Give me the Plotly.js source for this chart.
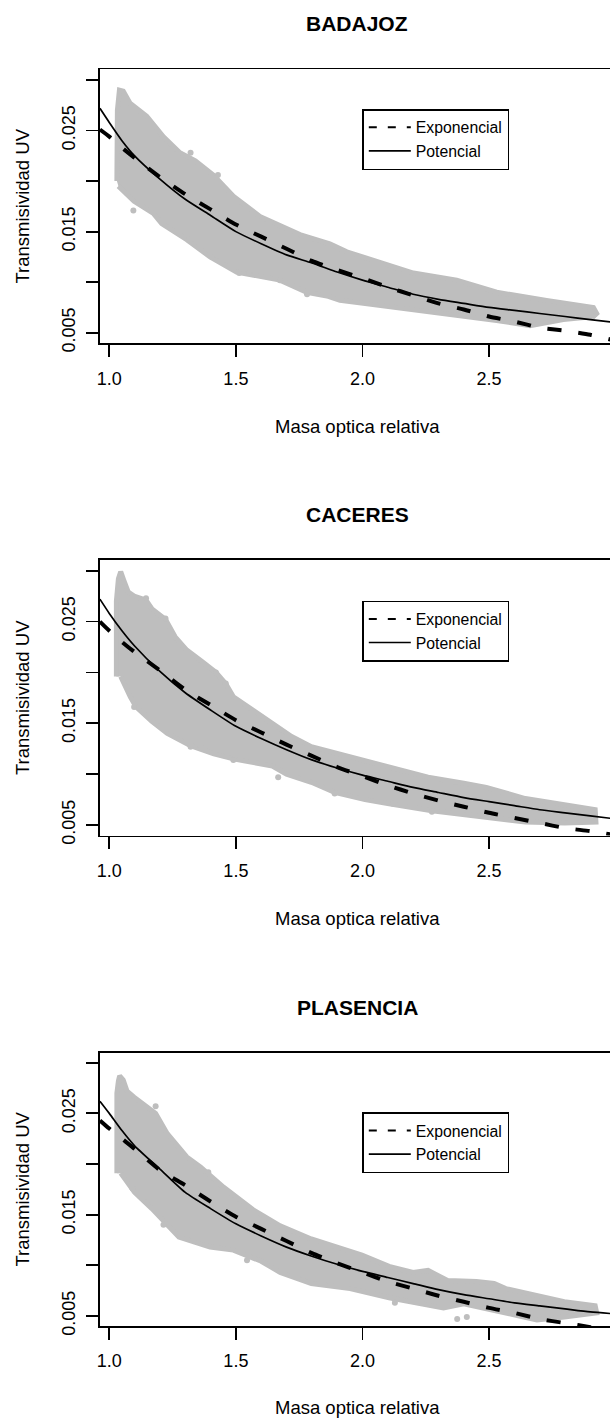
<!DOCTYPE html>
<html>
<head>
<meta charset="utf-8">
<script src="https://cdn.plot.ly/plotly-3.0.1.min.js"></script>
<style>
html,body{margin:0;padding:0;overflow:hidden;background:#ffffff;}
#chart{width:620px;height:1418px;}
</style>
</head>
<body>
<div id="chart"></div>
<script>
// ---------------- data ----------------
const stations = ["BADAJOZ", "CACERES", "PLASENCIA"];
const xTitle = "Masa optica relativa";
const yTitle = "Transmisividad UV";
const legendNames = ["Exponencial", "Potencial"];

const xTickVals = [1.0, 1.5, 2.0, 2.5];
const xTickText = ["1.0", "1.5", "2.0", "2.5"];
const yTickVals = [0.005, 0.010, 0.015, 0.020, 0.025, 0.030];
const yTickText = ["0.005", "", "0.015", "", "0.025", ""];

// x positions at which the fitted curves were read
const curveX = [0.963, 1.0, 1.05, 1.1, 1.2, 1.3, 1.4, 1.5, 1.6, 1.7, 1.8, 1.9, 2.0,
                2.1, 2.2, 2.3, 2.4, 2.5, 2.6, 2.7, 2.8, 2.9, 3.0];

const expBadajoz   = [0.0251, 0.0244, 0.0233, 0.0223, 0.0204, 0.0187, 0.0172, 0.0157, 0.0145, 0.0133, 0.0121, 0.0112, 0.0104,
                      0.0095, 0.0087, 0.0079, 0.0073, 0.0066, 0.0061, 0.0055, 0.0052, 0.0048, 0.0042];
const potBadajoz   = [0.0272, 0.0258, 0.0240, 0.0225, 0.0202, 0.0182, 0.0166, 0.0150, 0.0138, 0.0127, 0.0119, 0.0110, 0.0102,
                      0.0095, 0.0088, 0.0083, 0.0079, 0.0075, 0.0072, 0.0069, 0.0066, 0.0063, 0.0060];

const expCaceres   = [0.0250, 0.0241, 0.0230, 0.0220, 0.0202, 0.0183, 0.0168, 0.0153, 0.0141, 0.0129, 0.0118, 0.0107, 0.0098,
                      0.0089, 0.0081, 0.0074, 0.0068, 0.0062, 0.0057, 0.0052, 0.0047, 0.0044, 0.0040];
const potCaceres   = [0.0272, 0.0258, 0.0241, 0.0226, 0.0201, 0.0180, 0.0163, 0.0147, 0.0135, 0.0124, 0.0114, 0.0106, 0.0099,
                      0.0093, 0.0087, 0.0082, 0.0077, 0.0073, 0.0069, 0.0065, 0.0062, 0.0059, 0.0056];

const expPlasencia = [0.0243, 0.0235, 0.0225, 0.0215, 0.0194, 0.0179, 0.0163, 0.0148, 0.0136, 0.0124, 0.0112, 0.0102, 0.0093,
                      0.0084, 0.0077, 0.0070, 0.0064, 0.0058, 0.0053, 0.0047, 0.0043, 0.0039, 0.0035];
const potPlasencia = [0.0262, 0.0250, 0.0233, 0.0218, 0.0195, 0.0172, 0.0156, 0.0141, 0.0129, 0.0118, 0.0109, 0.0101, 0.0094,
                      0.0088, 0.0082, 0.0076, 0.0071, 0.0067, 0.0063, 0.0060, 0.0057, 0.0054, 0.0052];

// outline of the cloud of measured points (upper edge left->right, then lower edge right->left)
const cloudBadajozX = [1.030, 1.032, 1.040, 1.055, 1.082, 1.148, 1.213, 1.279, 1.340, 1.411, 1.490, 1.595, 1.753, 1.871,
                       1.938, 2.069, 2.201, 2.372, 2.530, 2.727, 2.912, 2.925,
                       2.912, 2.793, 2.662, 2.530, 2.398, 2.267, 2.135, 2.003, 1.911, 1.865, 1.780, 1.674, 1.503,
                       1.398, 1.306, 1.207, 1.174, 1.098, 1.036];
const cloudBadajozY = [0.0200, 0.0270, 0.0290, 0.0289, 0.0277, 0.0264, 0.0244, 0.0228, 0.0220, 0.0206, 0.0185, 0.0165, 0.0147, 0.0138,
                       0.0130, 0.0119, 0.0109, 0.0102, 0.0090, 0.0082, 0.0075, 0.0069,
                       0.0066, 0.0063, 0.0057, 0.0062, 0.0066, 0.0071, 0.0075, 0.0079, 0.0082, 0.0086, 0.0090, 0.0102, 0.0110,
                       0.0125, 0.0142, 0.0158, 0.0168, 0.0180, 0.0195];
const dotsBadajozX = [1.095, 1.321, 1.429, 1.314, 1.406, 1.513, 1.552, 1.674, 1.781];
const dotsBadajozY = [0.0171, 0.0228, 0.0206, 0.0142, 0.0125, 0.0109, 0.0109, 0.0102, 0.0088];

const cloudCaceresX = [1.028, 1.028, 1.036, 1.045, 1.058, 1.075, 1.098, 1.145, 1.170, 1.222, 1.260, 1.306, 1.370, 1.421,
                       1.460, 1.490, 1.567, 1.644, 1.720, 1.798, 1.951, 2.105, 2.259, 2.400, 2.489, 2.643, 2.760, 2.874, 2.919,
                       2.922, 2.797, 2.643, 2.412, 2.274, 2.105, 2.010, 1.890, 1.798, 1.700, 1.644, 1.490, 1.413, 1.321,
                       1.229, 1.168, 1.106, 1.083, 1.045];
const cloudCaceresY = [0.0196, 0.0270, 0.0292, 0.0299, 0.0290, 0.0279, 0.0275, 0.0271, 0.0262, 0.0252, 0.0235, 0.0222, 0.0210, 0.0200,
                       0.0189, 0.0176, 0.0163, 0.0150, 0.0137, 0.0127, 0.0117, 0.0107, 0.0097, 0.0091, 0.0087, 0.0076, 0.0071, 0.0067, 0.0065,
                       0.0053, 0.0052, 0.0053, 0.0060, 0.0064, 0.0071, 0.0075, 0.0082, 0.0092, 0.0100, 0.0108, 0.0115, 0.0120, 0.0128,
                       0.0140, 0.0152, 0.0166, 0.0176, 0.0196];
const dotsCaceresX = [1.145, 1.222, 1.421, 1.460, 1.098, 1.321, 1.360, 1.490, 1.667, 1.890, 2.120, 2.274];
const dotsCaceresY = [0.0273, 0.0253, 0.0200, 0.0189, 0.0166, 0.0127, 0.0128, 0.0114, 0.0097, 0.0081, 0.0071, 0.0063];

const cloudPlasenciaX = [1.030, 1.030, 1.036, 1.041, 1.055, 1.070, 1.098, 1.140, 1.183, 1.229, 1.306, 1.360, 1.452, 1.567,
                         1.675, 1.798, 1.875, 1.998, 2.105, 2.200, 2.259, 2.336, 2.450, 2.520, 2.566, 2.674, 2.797, 2.919,
                         2.925, 2.797, 2.689, 2.620, 2.566, 2.450, 2.400, 2.320, 2.200, 2.105, 1.951, 1.798, 1.675, 1.600,
                         1.490, 1.398, 1.275, 1.168, 1.100, 1.045];
const cloudPlasenciaY = [0.0191, 0.0270, 0.0282, 0.0287, 0.0283, 0.0272, 0.0266, 0.0258, 0.0250, 0.0230, 0.0207, 0.0197, 0.0177, 0.0155,
                         0.0139, 0.0126, 0.0120, 0.0110, 0.0099, 0.0093, 0.0095, 0.0085, 0.0084, 0.0082, 0.0077, 0.0071, 0.0064, 0.0060,
                         0.0053, 0.0049, 0.0046, 0.0050, 0.0053, 0.0059, 0.0062, 0.0058, 0.0063, 0.0068, 0.0077, 0.0082, 0.0093, 0.0104,
                         0.0115, 0.0118, 0.0128, 0.0156, 0.0172, 0.0191];
const dotsPlasenciaX = [1.183, 1.391, 1.091, 1.214, 1.544, 2.128, 2.374, 2.412];
const dotsPlasenciaY = [0.0257, 0.0192, 0.0176, 0.0140, 0.0105, 0.0063, 0.0047, 0.0049];

// ---------------- layout geometry (pixels of the 620 x 1418 figure) ----------------
const W = 620, H = 1418;
const FONT = "Liberation Sans, Arial, Helvetica, sans-serif";
const BOX_LEFT = 100, BOX_RIGHT = 614.5;
const X_RANGE = [0.9633, 2.9953];
const panels = [
  {top: 69.3,   bottom: 343.3, yRange: [0.00395, 0.03106], legendTop: 109.0,
   exp: expBadajoz, pot: potBadajoz, cx: cloudBadajozX, cy: cloudBadajozY, dx: dotsBadajozX, dy: dotsBadajozY},
  {top: 560.0,  bottom: 835.6, yRange: [0.00396, 0.03105], legendTop: 600.7,
   exp: expCaceres, pot: potCaceres, cx: cloudCaceresX, cy: cloudCaceresY, dx: dotsCaceresX, dy: dotsCaceresY},
  {top: 1052.7, bottom: 1326.0, yRange: [0.00401, 0.03099], legendTop: 1112.3,
   exp: expPlasencia, pot: potPlasencia, cx: cloudPlasenciaX, cy: cloudPlasenciaY, dx: dotsPlasenciaX, dy: dotsPlasenciaY}
];

const GRAY = "#BEBEBE";
const traces = [];
const layout = {
  width: W, height: H,
  margin: {l: 0, r: 0, t: 0, b: 0, pad: 0},
  paper_bgcolor: "#ffffff", plot_bgcolor: "#ffffff",
  font: {family: FONT, color: "#000000", size: 18},
  showlegend: true,
  annotations: []
};

panels.forEach((p, i) => {
  const n = i === 0 ? "" : String(i + 1);
  const xa = "x" + n, ya = "y" + n;
  const lg = "legend" + n;

  traces.push({type: "scatter", mode: "lines", x: p.cx, y: p.cy, xaxis: xa, yaxis: ya,
    fill: "toself", fillcolor: GRAY, line: {color: GRAY, width: 5}, showlegend: false, hoverinfo: "skip"});
  traces.push({type: "scatter", mode: "markers", x: p.dx, y: p.dy, xaxis: xa, yaxis: ya,
    marker: {color: GRAY, size: 6}, showlegend: false, hoverinfo: "skip"});
  traces.push({type: "scatter", mode: "lines", x: curveX, y: p.exp, xaxis: xa, yaxis: ya,
    line: {color: "#000000", width: 4, dash: "14px,17px", shape: "spline", smoothing: 0.6}, showlegend: false});
  traces.push({type: "scatter", mode: "lines", x: curveX, y: p.pot, xaxis: xa, yaxis: ya,
    line: {color: "#000000", width: 1.7, shape: "spline", smoothing: 0.6}, showlegend: false});
  // legend entries
  traces.push({type: "scatter", mode: "lines", x: [null], y: [null], xaxis: xa, yaxis: ya, name: legendNames[0],
    line: {color: "#000000", width: 2, dash: "8px,11px"}, legend: lg, showlegend: true});
  traces.push({type: "scatter", mode: "lines", x: [null], y: [null], xaxis: xa, yaxis: ya, name: legendNames[1],
    line: {color: "#000000", width: 1.7}, legend: lg, showlegend: true});

  const yDom = [1 - p.bottom / H, 1 - p.top / H];
  layout["xaxis" + n] = {
    domain: [BOX_LEFT / W, BOX_RIGHT / W], range: X_RANGE, anchor: ya,
    showgrid: false, zeroline: false, showline: true, linecolor: "#000", linewidth: 1.8, mirror: true,
    ticks: "outside", ticklen: 12, tickwidth: 1.8, tickcolor: "#000",
    tickmode: "array", tickvals: xTickVals, ticktext: xTickText,
    tickfont: {size: 18, family: FONT, color: "#000"}, ticklabelstandoff: 6,
    title: {text: xTitle, font: {size: 18.5, family: FONT, color: "#000"}, standoff: 32}
  };
  layout["yaxis" + n] = {
    domain: yDom, range: p.yRange, anchor: xa,
    showgrid: false, zeroline: false, showline: true, linecolor: "#000", linewidth: 1.8, mirror: true,
    ticks: "outside", ticklen: 12, tickwidth: 1.8, tickcolor: "#000",
    tickmode: "array", tickvals: yTickVals, ticktext: yTickText, tickangle: -90,
    tickfont: {size: 18, family: FONT, color: "#000"}, ticklabelstandoff: 4,
    title: {text: yTitle, font: {size: 18.5, family: FONT, color: "#000"}, standoff: 24}
  };
  layout[lg] = {
    x: 362.3 / W, y: 1 - p.legendTop / H, xanchor: "left", yanchor: "top",
    bgcolor: "#ffffff", bordercolor: "#000000", borderwidth: 1.5,
    font: {size: 15.8, family: FONT, color: "#000"}, itemwidth: 42, tracegroupgap: 0
  };
  layout.annotations.push({
    text: stations[i], xref: "paper", yref: "paper", showarrow: false,
    x: 357.3 / W, y: 1 - (p.top - 45.5) / H, xanchor: "center", yanchor: "middle",
    font: {size: 21, family: FONT, color: "#000", weight: "bold"}
  });
});

Plotly.newPlot("chart", traces, layout, {staticPlot: true, displayModeBar: false});
</script>
</body>
</html>
